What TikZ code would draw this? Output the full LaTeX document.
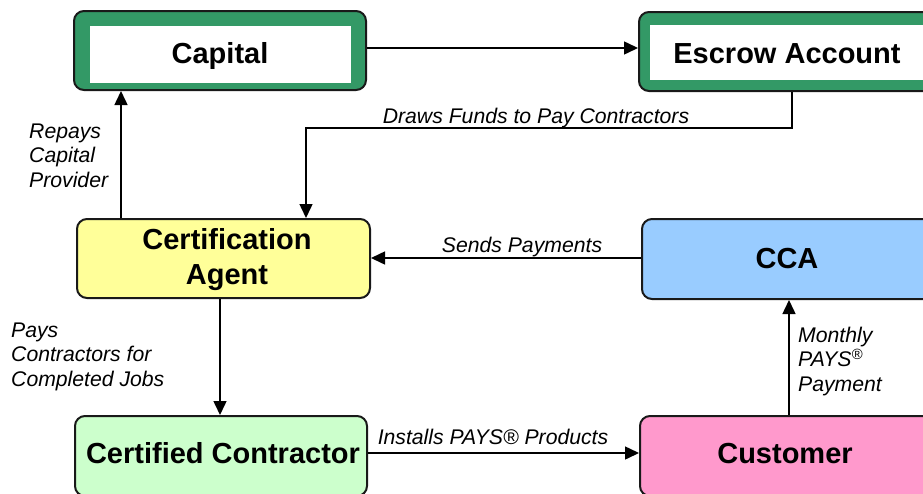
\documentclass[tikz,border=0pt]{standalone}
\usepackage{fontspec}
\setmainfont{Liberation Sans}
\usetikzlibrary{arrows.meta,calc}
\definecolor{capgreen}{HTML}{339966}
\definecolor{cayellow}{HTML}{FFFF99}
\definecolor{ccablue}{HTML}{99CCFF}
\definecolor{ccgreen}{HTML}{CCFFCC}
\definecolor{cuspink}{HTML}{FF99CC}
\begin{document}
\begin{tikzpicture}[x=1pt,y=-1pt,
  box/.style={draw=black!90, line width=2pt, rounded corners=10pt, inner sep=0pt, rectangle},
  whitein/.style={fill=white, draw=none, inner sep=0pt, rectangle},
  title/.style={font=\fontsize{29}{35}\selectfont\bfseries, inner sep=0pt, anchor=base, align=center},
  lab/.style={font=\fontsize{21.2}{24.3}\selectfont\itshape, inner sep=0pt, align=left},
  arr/.style={line width=1.5pt, -{Triangle[length=14pt,width=13pt]}}]
\useasboundingbox (0,0) rectangle (923,493);
\fill[white] (0,0) rectangle (923,493);
\clip (0,0) rectangle (923,493);

% boxes
\node[box, fill=capgreen, minimum width=292pt, minimum height=79pt] (cap) at (220,50.5) {};
\node[whitein, minimum width=261pt, minimum height=57pt] (capin) at (220.5,54.5) {};
\node[box, fill=capgreen, minimum width=361pt, minimum height=79pt] (esc) at (819.5,51.5) {};
\node[whitein, minimum width=360pt, minimum height=55pt] (escin) at (830,52.5) {};
\node[box, fill=cayellow, minimum width=293pt, minimum height=79pt] (ca) at (223.5,258.5) {};
\node[box, fill=ccablue, minimum width=358pt, minimum height=80pt] (cca) at (821,259) {};
\node[box, fill=ccgreen, minimum width=292pt, minimum height=80pt] (cc) at (221,456) {};
\node[box, fill=cuspink, minimum width=360pt, minimum height=80pt] (cus) at (820,456) {};

% titles
\node[title] (tcap) at (220,63) {Capital};
\node[title] (tesc) at (787,63) {Escrow Account};
\node[title] (tca) at (227,284) {Certification\\Agent};
\node[title] (tcca) at (787,268) {CCA};
\node[title] (tcc) at (223,463) {Certified Contractor};
\node[title] (tcus) at (785,463) {Customer};

% helper coordinates
\coordinate (k1) at (792,0);
\coordinate (k2) at (306,0);
\coordinate (m1) at (0,128);
\coordinate (k3) at (121,0);
\coordinate (k4) at (220,0);
\coordinate (m2) at (0,453);
\coordinate (k5) at (789,0);
\coordinate (m3) at (0,48);
\coordinate (m4) at (0,258);

% connectors
\draw[arr] (cap.east |- m3) -- (esc.west |- m3);
\draw[arr] (esc.south -| k1) -- (k1 |- m1) -- (k2 |- m1) -- (ca.north -| k2);
\draw[arr] (ca.north -| k3) -- (cap.south -| k3);
\draw[arr] (cca.west |- m4) -- (ca.east |- m4);
\draw[arr] (ca.south -| k4) -- (cc.north -| k4);
\draw[arr] (cc.east |- m2) -- (cus.west |- m2);
\draw[arr] (cus.north -| k5) -- (cca.south -| k5);

% labels
\node[lab, anchor=base] (ldraw) at (536,123) {Draws Funds to Pay Contractors};
\node[lab, anchor=base] (lsend) at (522,252) {Sends Payments};
\node[lab, anchor=base] (linst) at (493,444) {Installs PAYS® Products};
\node[lab, anchor=base west] (lrep) at (29,187) {Repays\\Capital\\Provider};
\node[lab, anchor=base west] (lpay) at (11,386) {Pays\\Contractors for\\Completed Jobs};
\node[lab, anchor=base west] (lmon) at (798,391) {Monthly\\PAYS\textsuperscript{®}\\Payment};
\end{tikzpicture}
\end{document}
